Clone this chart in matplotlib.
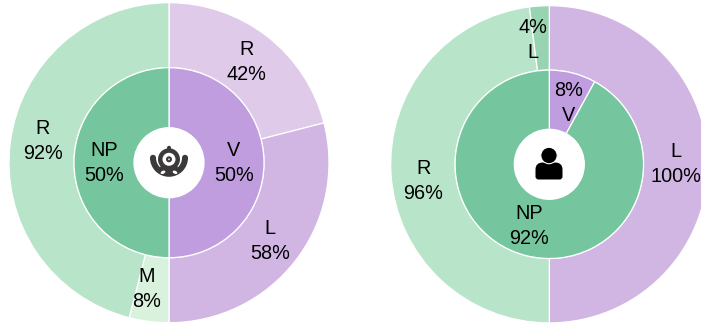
''' Two nested donut charts with an icon in the middle of each. '''

import matplotlib
matplotlib.use('Agg')
import matplotlib.pyplot as plt
from matplotlib.patches import Circle, Ellipse, Wedge, PathPatch
from matplotlib.path import Path

plt.rcParams['font.family'] = ['Liberation Sans', 'DejaVu Sans']

W, H = 701, 327

# Left donut
left_inner_names = ['V', 'NP']
left_inner_values = [50, 50]
left_outer_names = ['R', 'L', 'M', 'R']
left_outer_values = [42, 58, 8, 92]

# Right donut
right_inner_names = ['V', 'NP']
right_inner_values = [8, 92]
right_outer_names = ['L', 'R', 'L']
right_outer_values = [100, 96, 4]

PURPLE = '#c09ddf'
GREEN = '#75c69e'
PURPLE_MID = '#d1b6e4'
PURPLE_LIGHT = '#dfcae9'
GREEN_MID = '#b8e4c9'
GREEN_LIGHT = '#d8f2de'
GREEN_DARK = '#98d4b2'


def donut(ax, cx, cy, outer_r, inner_r, hole_r, outer, inner, outer_colors, inner_colors):
    # pixel y runs downwards, axes y upwards
    center = (cx, H - cy)
    edge = dict(edgecolor='white', linewidth=0.9)
    ax.pie(outer, colors=outer_colors, radius=outer_r, center=center, startangle=90,
           counterclock=False, wedgeprops=dict(width=outer_r - inner_r, **edge))
    ax.pie(inner, colors=inner_colors, radius=inner_r, center=center, startangle=90,
           counterclock=False, wedgeprops=dict(width=inner_r - hole_r, **edge))
    ax.add_patch(Circle(center, hole_r, facecolor='white', edgecolor='none', zorder=3))


def label(ax, x, y, first, second):
    ax.text(x, H - y, '{}\n{}'.format(first, second), ha='center', va='center',
            fontsize=14.3, color='black', linespacing=1.36, zorder=4)


def robot_icon(ax, cx, cy):
    dark = '#3b3939'
    y = H - cy
    ax.add_patch(Wedge((cx, y + 1.5), 19, 180, 360, width=6, facecolor=dark, edgecolor='none', zorder=5))
    ax.add_patch(Circle((cx - 16, y + 1.5), 3, facecolor=dark, edgecolor='none', zorder=5))
    ax.add_patch(Circle((cx + 16, y + 1.5), 3, facecolor=dark, edgecolor='none', zorder=5))
    ax.add_patch(Ellipse((cx, y - 9), 18, 12, facecolor=dark, edgecolor='none', zorder=5))
    ax.add_patch(Circle((cx, y), 11, facecolor=dark, edgecolor='none', zorder=5))
    ax.add_patch(Circle((cx, y + 11.5), 2, facecolor=dark, edgecolor='none', zorder=5))
    ax.add_patch(Circle((cx, y), 6.5, facecolor='white', edgecolor='none', zorder=6))
    ax.add_patch(Circle((cx, y), 3, facecolor=dark, edgecolor='none', zorder=7))
    ax.add_patch(Circle((cx, y), 1, facecolor='#cccccc', edgecolor='none', zorder=8))
    ax.add_patch(Ellipse((cx - 6, y - 13), 5, 3, angle=25, facecolor='white', edgecolor='none', zorder=6))
    ax.add_patch(Ellipse((cx + 6, y - 13), 5, 3, angle=-25, facecolor='white', edgecolor='none', zorder=6))


def person_icon(ax, cx, cy):
    y = H - cy
    # shoulders and torso
    l, r, top, bot = cx - 13.5, cx + 13.5, y + 1, y - 16
    verts = [(l, bot + 3), (l, top - 7), (l, top), (cx - 6, top), (cx + 6, top), (r, top),
             (r, top - 7), (r, bot + 3), (r, bot), (r - 3, bot), (l + 3, bot), (l, bot), (l, bot + 3)]
    codes = [Path.MOVETO, Path.LINETO, Path.CURVE3, Path.CURVE3, Path.LINETO, Path.CURVE3,
             Path.CURVE3, Path.LINETO, Path.CURVE3, Path.CURVE3, Path.LINETO, Path.CURVE3, Path.CURVE3]
    ax.add_patch(PathPatch(Path(verts, codes), facecolor='black', edgecolor='none', zorder=5))
    ax.add_patch(Circle((cx, y + 8), 8.2, facecolor='black', edgecolor='white', linewidth=0.8, zorder=6))


fig = plt.figure(figsize=(W / 100, H / 100), dpi=100)
ax = fig.add_axes([0, 0, 1, 1])

donut(ax, 169, 162.7, 160, 95, 35, left_outer_values, left_inner_values,
      [PURPLE_LIGHT, PURPLE_MID, GREEN_LIGHT, GREEN_MID], [PURPLE, GREEN])
donut(ax, 549.3, 164.3, 158.6, 94.2, 35, right_outer_values, right_inner_values,
      [PURPLE_MID, GREEN_MID, GREEN_DARK], [PURPLE, GREEN])

label(ax, 246.7, 62, left_outer_names[0], '{}%'.format(left_outer_values[0]))
label(ax, 270, 241, left_outer_names[1], '{}%'.format(left_outer_values[1]))
label(ax, 147, 289, left_outer_names[2], '{}%'.format(left_outer_values[2]))
label(ax, 43, 141, left_outer_names[3], '{}%'.format(left_outer_values[3]))
label(ax, 234, 163, left_inner_names[0], '{}%'.format(left_inner_values[0]))
label(ax, 104, 163, left_inner_names[1], '{}%'.format(left_inner_values[1]))

label(ax, 676, 164, right_outer_names[0], '{}%'.format(right_outer_values[0]))
label(ax, 423.3, 181, right_outer_names[1], '{}%'.format(right_outer_values[1]))
label(ax, 532.7, 40, '{}%'.format(right_outer_values[2]), right_outer_names[2])
label(ax, 569, 103, '{}%'.format(right_inner_values[0]), right_inner_names[0])
label(ax, 529, 226, right_inner_names[1], '{}%'.format(right_inner_values[1]))

robot_icon(ax, 169, 159.3)
person_icon(ax, 549, 163.5)

ax.set_xlim(0, W)
ax.set_ylim(0, H)
ax.axis('off')

fig.savefig('out.png', dpi=100)
